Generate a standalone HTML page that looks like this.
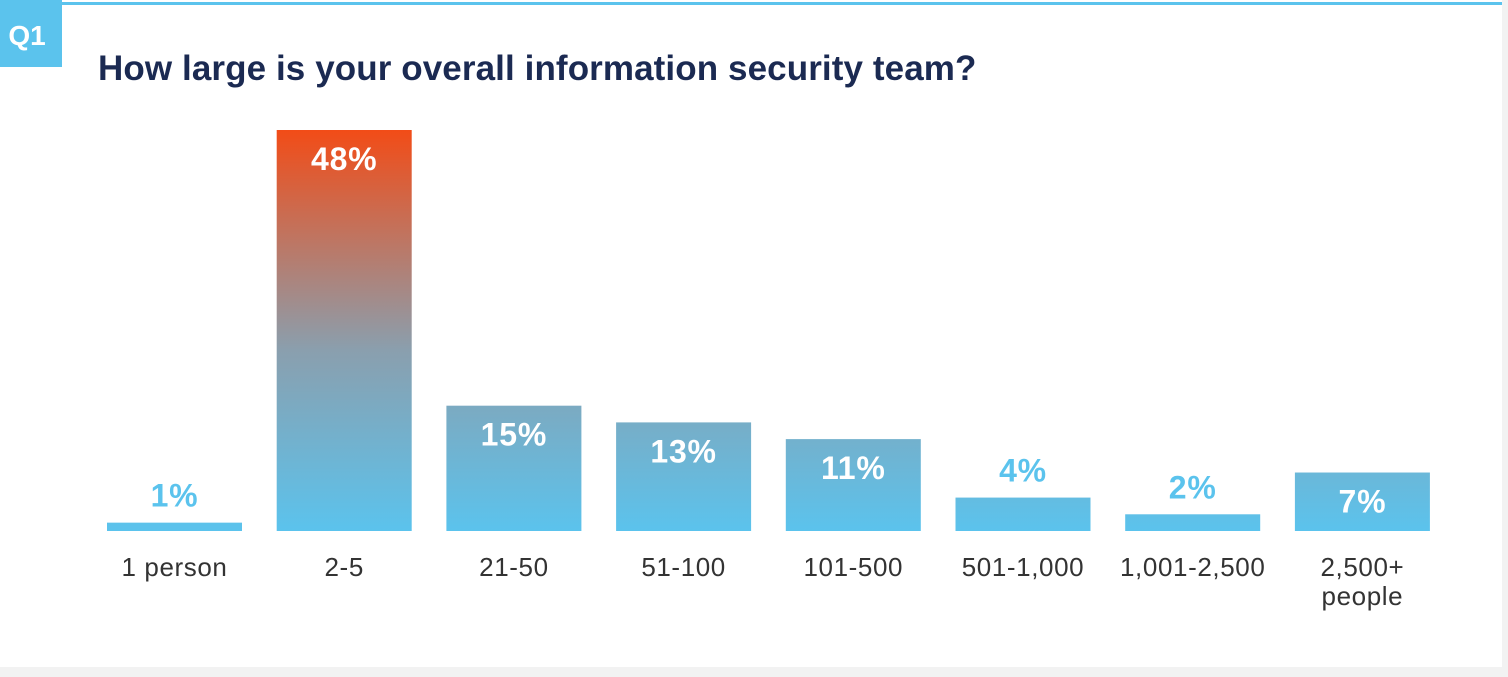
<!DOCTYPE html>
<html><head><meta charset="utf-8"><style>
html,body{margin:0;padding:0;background:#f2f2f2;}
body{width:1508px;height:672px;overflow:hidden;position:relative;font-family:"Liberation Sans",sans-serif;}
#card{position:absolute;left:0;top:0;width:1502px;height:667px;background:#fff;}
</style></head><body>
<div id="card">
<svg width="1508" height="672" viewBox="0 0 1508 672">
<defs>
<linearGradient id="g" gradientUnits="userSpaceOnUse" x1="0" y1="531" x2="0" y2="130">
<stop offset="0" stop-color="#5bc3ed"/>
<stop offset="0.45" stop-color="#8a9fae"/>
<stop offset="1" stop-color="#f24c17"/>
</linearGradient>
</defs>
<rect x="0" y="2" width="1502" height="3" fill="#5bc3ed"/>
<rect x="0" y="0" width="62" height="67" fill="#5bc3ed"/>
<text x="27" y="45" text-anchor="middle" font-size="28" font-weight="bold" fill="#fff">Q1</text>
<text x="98" y="80" font-size="35" font-weight="bold" fill="#1b2a52" letter-spacing="0.1">How large is your overall information security team?</text>
<g id="bars"></g>
</svg>
</div>
<script>
const categories=["1 person","2-5","21-50","51-100","101-500","501-1,000","1,001-2,500","2,500+|people"];
const values=[1,48,15,13,11,4,2,7];
const baseY=531, pxPer=401/48, x0=107, step=169.7, bw=135;
const NS="http://www.w3.org/2000/svg";
const g=document.getElementById('bars');
function yS(v){return baseY-v*pxPer;}
categories.forEach((c,i)=>{
  const v=values[i], x=x0+i*step, y=yS(v);
  const r=document.createElementNS(NS,'rect');
  r.setAttribute('x',x);r.setAttribute('y',y);r.setAttribute('width',bw);r.setAttribute('height',baseY-y);
  r.setAttribute('fill','url(#g)');
  
  
  g.appendChild(r);
  const t=document.createElementNS(NS,'text');
  const inside=(baseY-y)>50;
  t.setAttribute('x',x+bw/2);
  t.setAttribute('y',inside?y+40:y-16);
  t.setAttribute('text-anchor','middle');
  t.setAttribute('font-size','32');t.setAttribute('font-weight','bold');
  t.setAttribute('letter-spacing','0.8');
  t.setAttribute('fill',inside?'#fff':'#5bc3ed');
  t.textContent=v+'%';
  
  
  g.appendChild(t);
  c.split('|').forEach((line,j)=>{
    const l=document.createElementNS(NS,'text');
    l.setAttribute('x',x+bw/2);l.setAttribute('y',576+j*29);
    l.setAttribute('text-anchor','middle');l.setAttribute('font-size','26');l.setAttribute('fill','#333');
    l.setAttribute('letter-spacing','0.6');
    l.textContent=line;
    
    
    g.appendChild(l);
  });
});
</script>
</body></html>
